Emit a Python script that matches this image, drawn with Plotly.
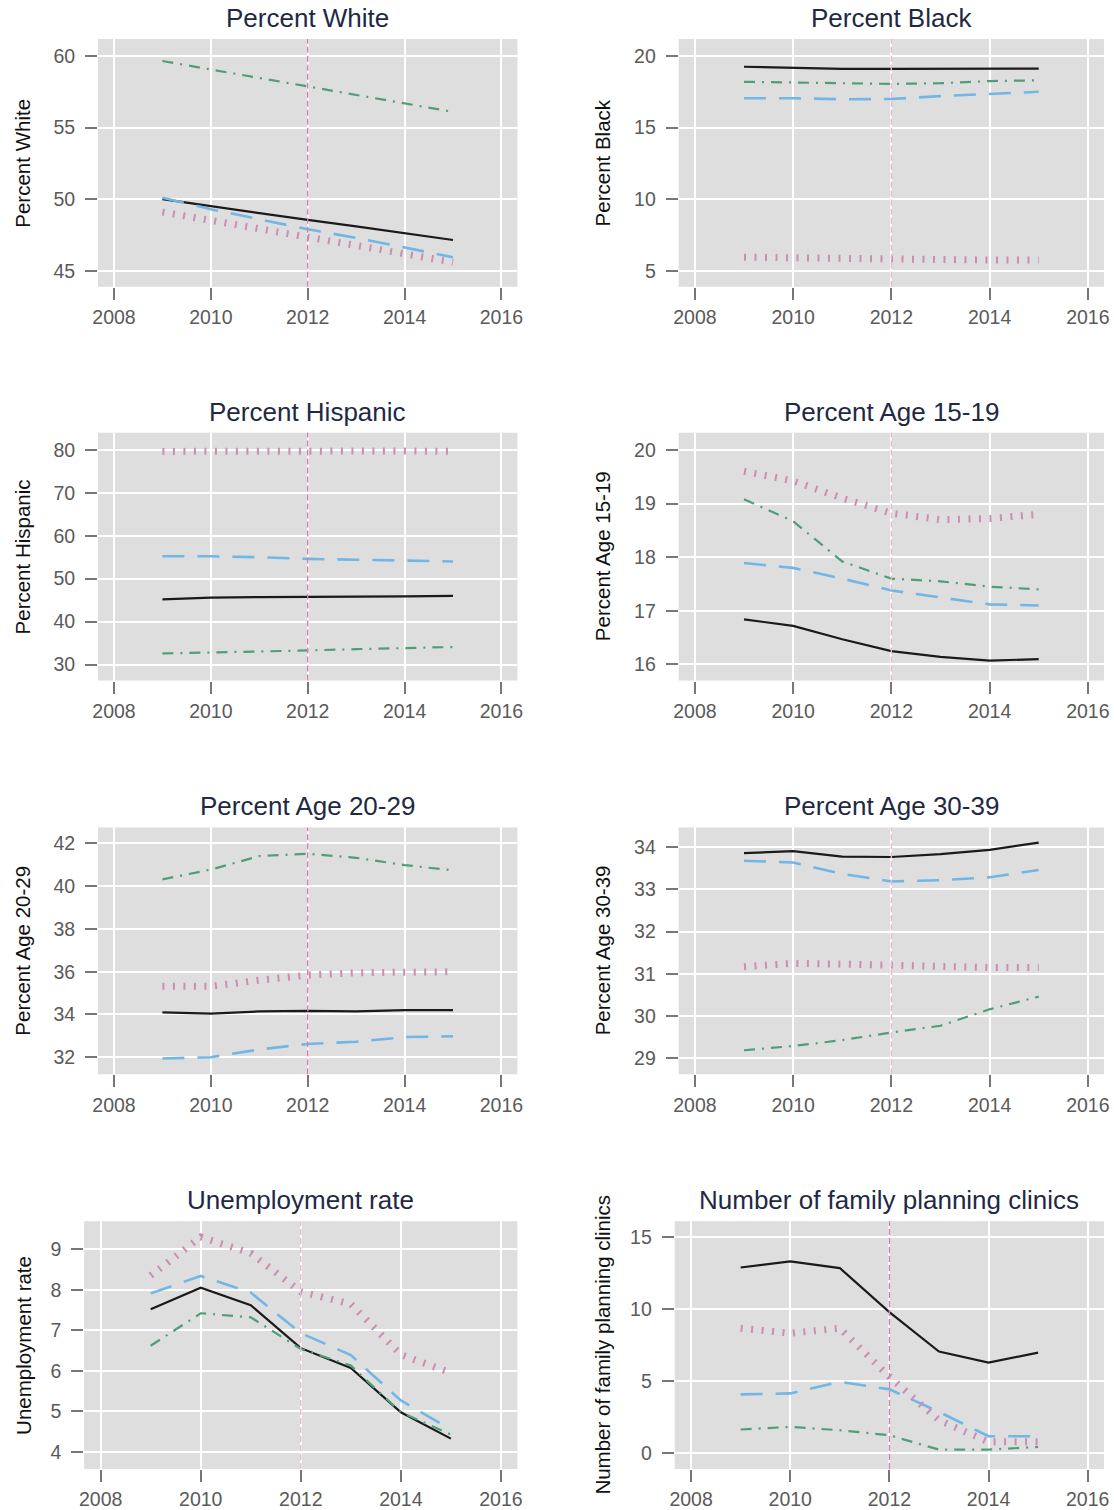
import plotly.graph_objects as go

# ---- data -------------------------------------------------------------
years = [2009, 2010, 2011, 2012, 2013, 2014, 2015]
policy_year = 2012

titles = [
    "Percent White", "Percent Black",
    "Percent Hispanic", "Percent Age 15-19",
    "Percent Age 20-29", "Percent Age 30-39",
    "Unemployment rate", "Number of family planning clinics",
]

# series per panel: solid (black), dashed (blue), dash-dot (green), dotted (pink)
white_solid = [50.0, 49.5, 49.0, 48.55, 48.1, 47.6, 47.15]
white_dash = [50.1, 49.3, 48.6, 47.9, 47.3, 46.6, 45.95]
white_dashdot = [59.65, 59.05, 58.5, 57.9, 57.3, 56.7, 56.1]
white_dot = [49.1, 48.5, 48.0, 47.4, 46.8, 46.2, 45.6]

black_solid = [19.25, 19.15, 19.1, 19.1, 19.1, 19.12, 19.12]
black_dash = [17.05, 17.05, 16.98, 17.0, 17.2, 17.35, 17.5]
black_dashdot = [18.2, 18.15, 18.05, 18.05, 18.1, 18.25, 18.3]
black_dot = [5.95, 5.9, 5.85, 5.75, 5.8, 5.75, 5.75]

hisp_solid = [45.2, 45.6, 45.7, 45.7, 45.8, 45.9, 46.0]
hisp_dash = [55.2, 55.2, 55.0, 54.6, 54.4, 54.2, 54.0]
hisp_dashdot = [32.6, 32.8, 33.1, 33.3, 33.6, 33.9, 34.1]
hisp_dot = [79.6, 79.7, 79.8, 79.8, 79.8, 79.7, 79.6]

a1519_solid = [16.84, 16.72, 16.47, 16.25, 16.14, 16.07, 16.1]
a1519_dash = [17.89, 17.8, 17.6, 17.38, 17.25, 17.12, 17.1]
a1519_dashdot = [19.08, 18.67, 17.92, 17.6, 17.55, 17.45, 17.4]
a1519_dot = [19.6, 19.42, 19.1, 18.82, 18.7, 18.72, 18.8]

a2029_solid = [34.1, 34.04, 34.14, 34.17, 34.14, 34.2, 34.2]
a2029_dash = [31.94, 32.0, 32.36, 32.62, 32.72, 32.94, 32.98]
a2029_dashdot = [40.32, 40.78, 41.41, 41.52, 41.33, 40.99, 40.74]
a2029_dot = [35.32, 35.32, 35.6, 35.84, 35.95, 36.0, 36.0]

a3039_solid = [33.86, 33.91, 33.78, 33.77, 33.84, 33.94, 34.11]
a3039_dash = [33.68, 33.64, 33.37, 33.19, 33.22, 33.29, 33.46]
a3039_dashdot = [29.19, 29.29, 29.43, 29.61, 29.77, 30.16, 30.46]
a3039_dot = [31.17, 31.25, 31.23, 31.19, 31.19, 31.15, 31.15]

unemp_solid = [7.52, 8.05, 7.62, 6.56, 6.07, 4.98, 4.33]
unemp_dash = [7.91, 8.34, 7.93, 6.93, 6.39, 5.27, 4.56]
unemp_dashdot = [6.62, 7.42, 7.32, 6.54, 6.13, 4.98, 4.43]
unemp_dot = [8.35, 9.3, 8.9, 7.95, 7.65, 6.4, 5.95]

clinic_solid = [12.9, 13.33, 12.86, 9.79, 7.05, 6.28, 6.98]
clinic_dash = [4.07, 4.14, 4.95, 4.42, 2.86, 1.16, 1.16]
clinic_dashdot = [1.63, 1.81, 1.58, 1.23, 0.23, 0.23, 0.42]
clinic_dot = [8.67, 8.33, 8.67, 5.3, 2.28, 0.77, 0.77]

panel_series = [
    (white_solid, white_dash, white_dashdot, white_dot),
    (black_solid, black_dash, black_dashdot, black_dot),
    (hisp_solid, hisp_dash, hisp_dashdot, hisp_dot),
    (a1519_solid, a1519_dash, a1519_dashdot, a1519_dot),
    (a2029_solid, a2029_dash, a2029_dashdot, a2029_dot),
    (a3039_solid, a3039_dash, a3039_dashdot, a3039_dot),
    (unemp_solid, unemp_dash, unemp_dashdot, unemp_dot),
    (clinic_solid, clinic_dash, clinic_dashdot, clinic_dot),
]

y_ticks = [
    [45, 50, 55, 60], [5, 10, 15, 20],
    [30, 40, 50, 60, 70, 80], [16, 17, 18, 19, 20],
    [32, 34, 36, 38, 40, 42], [29, 30, 31, 32, 33, 34],
    [4, 5, 6, 7, 8, 9], [0, 5, 10, 15],
]
y_ranges = [
    [43.88, 61.19], [3.88, 21.19],
    [26.3, 83.95], [15.70, 20.32],
    [31.2, 42.75], [28.62, 34.47],
    [3.58, 9.69], [-1.12, 16.12],
]
x_ticks = [2008, 2010, 2012, 2014, 2016]
x_range = [2007.67, 2016.33]

# ---- styling ----------------------------------------------------------
W, H = 1114, 1510
FONT = "Liberation Sans, Arial, Helvetica, sans-serif"
BG = "#dedede"
TICK_COLOR = "#5a5a5a"
TITLE_COLOR = "#1f2944"

line_styles = [
    dict(color="#1a1a1a", width=2.2, dash="solid"),
    dict(color="#72b6e6", width=2.6, dash="22px,13px"),
    dict(color="#4f9e78", width=2.2, dash="11px,7px,2px,7px"),
    dict(color="#cc8db3", width=7, dash="2px,8.5px"),
]
vline_colors = ["#d77cb0", "#e8b8d2", "#d77cb0", "#e8b8d2",
                "#d77cb0", "#e8b8d2", "#e8b8d2", "#d77cb0"]

# pixel boxes of plotting areas: (left, right, top, bottom)
row_tb = [(39, 287), (433, 681), (828, 1075), (1222, 1470)]
col_lr = [(93, 517), (680, 1110)]
col_lr_last = [(79, 517), (676, 1110)]
ytitle_x = [17, 603]

fig = go.Figure()
annotations = []
shapes = []

for i in range(8):
    r, c = divmod(i, 2)
    top, bot = row_tb[r]
    left, right = (col_lr_last if r == 3 else col_lr)[c]
    n = i + 1
    xa = "x" if n == 1 else f"x{n}"
    ya = "y" if n == 1 else f"y{n}"
    xkey = "xaxis" if n == 1 else f"xaxis{n}"
    ykey = "yaxis" if n == 1 else f"yaxis{n}"

    fig.update_layout({
        xkey: dict(
            domain=[left / W, right / W], anchor=ya, range=x_range,
            tickvals=x_ticks, ticks="outside", ticklen=12, tickwidth=1.5,
            tickcolor="#777777", showgrid=True, gridcolor="white", gridwidth=2.2,
            zeroline=False, showline=False, ticklabelstandoff=1,
            tickfont=dict(family=FONT, size=19.5, color=TICK_COLOR),
        ),
        ykey: dict(
            domain=[1 - bot / H, 1 - top / H], anchor=xa, range=y_ranges[i],
            tickvals=y_ticks[i], ticks="outside", ticklen=12, tickwidth=1.5,
            tickcolor="#777777", showgrid=True, gridcolor="white", gridwidth=2.2,
            zeroline=False, showline=False, ticklabelstandoff=6,
            tickfont=dict(family=FONT, size=19.5, color=TICK_COLOR),
        ),
    })

    for vals, style in zip(panel_series[i], line_styles):
        fig.add_trace(go.Scatter(
            x=years, y=vals, mode="lines", line=style,
            xaxis=xa, yaxis=ya, showlegend=False, hoverinfo="skip",
        ))

    # policy change marker
    shapes.append(dict(
        type="line", xref=xa, yref=f"{ya} domain",
        x0=policy_year, x1=policy_year, y0=0, y1=1,
        line=dict(color=vline_colors[i], width=1.4, dash="6px,3px"),
        layer="above",
    ))

    # panel title
    annotations.append(dict(
        text=titles[i], xref="paper", yref="paper",
        x=(left + right) / 2 / W, y=1 - (top - 21) / H,
        xanchor="center", yanchor="middle", showarrow=False,
        font=dict(family=FONT, size=26, color=TITLE_COLOR),
    ))
    # y-axis title
    annotations.append(dict(
        text=titles[i], xref="paper", yref="paper",
        x=ytitle_x[c] / W, y=1 - (top + bot) / 2 / H,
        xanchor="center", yanchor="middle", textangle=-90, showarrow=False,
        font=dict(family=FONT, size=20.5, color="#111111"),
    ))

fig.update_layout(
    width=W, height=H,
    margin=dict(l=0, r=0, t=0, b=0),
    paper_bgcolor="white", plot_bgcolor=BG,
    annotations=annotations, shapes=shapes,
    showlegend=False,
)

fig.write_html("out.html")
